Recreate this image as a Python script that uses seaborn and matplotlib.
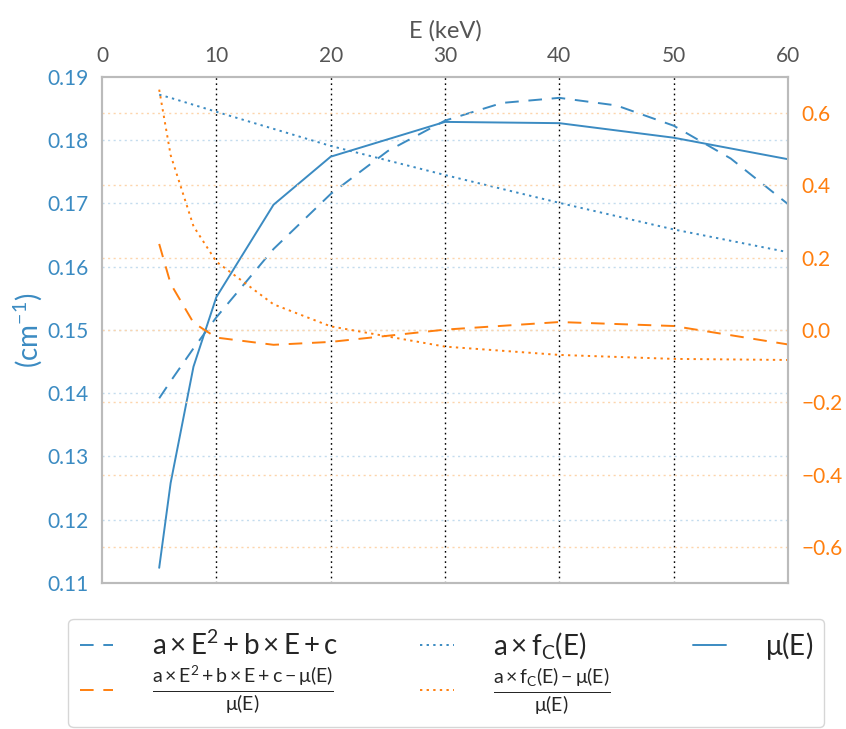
import seaborn as sns
import matplotlib.pyplot as plt

# energies (keV) and values
energy = [5, 6, 8, 10, 15, 20, 30, 40, 50, 60]
mu = [0.1124, 0.1258, 0.1442, 0.1552, 0.1698, 0.1774, 0.1829, 0.1827, 0.1804, 0.1770]

energy_fine = [5, 6, 8, 10, 15, 20, 25, 30, 35, 40, 45, 50, 55, 60]
quad_fit = [0.1392, 0.1419, 0.1471, 0.1520, 0.1628, 0.1715, 0.1783, 0.1831,
            0.1859, 0.1867, 0.1855, 0.1823, 0.1771, 0.1699]
compton_fit = [0.1872, 0.1867, 0.1856, 0.1845, 0.1818, 0.1791, 0.1768, 0.1745,
               0.1723, 0.1701, 0.1680, 0.1659, 0.1641, 0.1623]

quad_rel = [0.238, 0.128, 0.020, -0.021, -0.041, -0.033, 0.001, 0.022, 0.011, -0.040]
compton_rel = [0.665, 0.484, 0.287, 0.189, 0.071, 0.010, -0.046, -0.069, -0.080, -0.083]

left_ticks = [0.11, 0.12, 0.13, 0.14, 0.15, 0.16, 0.17, 0.18, 0.19]
right_ticks = [-0.6, -0.4, -0.2, 0.0, 0.2, 0.4, 0.6]
x_ticks = [0, 10, 20, 30, 40, 50, 60]

blue = '#3b8bc2'
orange = '#ff7f0e'

sns.set_style('white')
plt.rcParams['font.family'] = ['Lato', 'DejaVu Sans']
plt.rcParams['mathtext.fontset'] = 'stixsans'
plt.rcParams['mathtext.default'] = 'regular'

fig = plt.figure(figsize=(8.46, 7.29), dpi=100)
ax = fig.add_axes([0.1206, 0.2003, 0.8108, 0.6941])
ax2 = ax.twinx()

# left axis curves
sns.lineplot(x=energy_fine, y=quad_fit, ax=ax, color=blue, lw=1.4,
             label=r'$a \times E^2 + b \times E + c$')
ax.lines[-1].set_dashes((7, 5))
sns.lineplot(x=energy_fine, y=compton_fit, ax=ax, color=blue, lw=1.4,
             label=r'$a \times f_C(E)$')
ax.lines[-1].set_dashes((1.2, 2.2))
sns.lineplot(x=energy, y=mu, ax=ax, color=blue, lw=1.4, label=r'$\mu(E)$')

# right axis curves
sns.lineplot(x=energy, y=quad_rel, ax=ax2, color=orange, lw=1.4,
             label=r'$\frac{a\times E^2+b\times E+c-\mu(E)}{\mu(E)}$')
ax2.lines[-1].set_dashes((7, 5))
sns.lineplot(x=energy, y=compton_rel, ax=ax2, color=orange, lw=1.4,
             label=r'$\frac{a\times f_C(E)-\mu(E)}{\mu(E)}$')
ax2.lines[-1].set_dashes((1.2, 2.2))

ax.set_xlim(0, 60)
ax.set_ylim(0.11, 0.19)
ax2.set_ylim(-0.7, 0.7)
ax.set_xticks(x_ticks)
ax.set_yticks(left_ticks)
ax2.set_yticks(right_ticks)
ax.set_yticklabels([f'{t:.2f}' for t in left_ticks])
ax2.set_yticklabels([f'{t:.1f}'.replace('-', '\u2212') for t in right_ticks])

# grid lines
for t in x_ticks[1:-1]:
    ax.axvline(t, color='black', lw=1, ls=(0, (1.2, 2.5)), zorder=0)
for t in left_ticks[1:-1]:
    ax.axhline(t, color='#c4dcee', lw=1, ls=(0, (1.5, 2.5)), zorder=0)
for t in right_ticks:
    ax2.axhline(t, color='#fdd5ac', lw=1, ls=(0, (1.5, 2.5)), zorder=0)

ax.xaxis.tick_top()
ax.xaxis.set_label_position('top')
ax.set_xlabel('E (keV)', fontsize=17, color='#555555', labelpad=6)
ax.set_ylabel(r'$(cm^{-1})$', fontsize=20, color=blue, labelpad=2)
ax.tick_params(axis='x', colors='#555555', labelsize=15, length=0, pad=8)
ax.tick_params(axis='y', colors=blue, labelsize=15, length=0, pad=10)
ax2.tick_params(axis='y', colors=orange, labelsize=15, length=0, pad=10)

for a in (ax, ax2):
    for s in a.spines.values():
        s.set_color('#bbbbbb')
        s.set_linewidth(1.5)

# combined legend under the plot
h1, l1 = ax.get_legend_handles_labels()
h2, l2 = ax2.get_legend_handles_labels()
ax.get_legend().remove()
ax2.get_legend().remove()
handles = [h1[0], h2[0], h1[1], h2[1], h1[2]]
labels = [l1[0], l2[0], l1[1], l2[1], l1[2]]
fig.legend(handles, labels, loc='upper left', ncol=3, mode='expand',
           bbox_to_anchor=(0.071, -0.3, 0.913, 0.463), fontsize=20,
           handlelength=1.2, handletextpad=1.4, frameon=True,
           edgecolor='#cccccc', fancybox=True, labelspacing=0.15,
           borderaxespad=0.3)

fig.savefig('out.png', dpi=100)
